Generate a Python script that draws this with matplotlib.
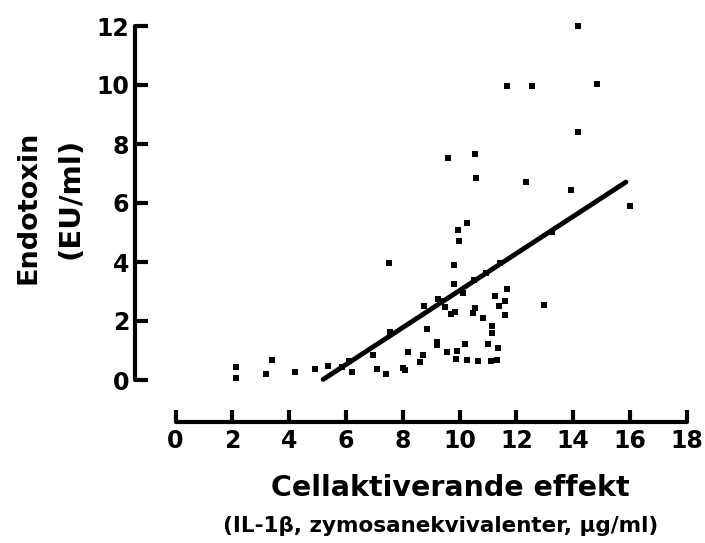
import matplotlib
matplotlib.use("Agg")
import matplotlib.pyplot as plt
import numpy as np

plt.rcParams['font.family'] = ['DejaVu Sans']
plt.rcParams['font.weight'] = 'bold'

# cell activating effect (x) vs endotoxin (y)
x_vals = [2.14, 2.14, 3.40, 3.19, 4.21, 4.91, 5.36, 5.85, 6.11, 6.23,
          6.96, 7.11, 7.42, 8.02, 8.09, 8.20, 7.53, 7.55,
          9.61, 10.55, 10.59, 9.94, 10.27, 9.99, 9.80, 11.42, 10.93,
          9.80, 10.52, 11.68, 10.13, 11.26, 11.60, 11.40, 11.61, 12.99,
          8.75, 9.25, 9.35, 9.49, 9.69, 9.84, 10.49, 10.55, 10.84,
          11.15, 11.13, 8.85, 9.20, 9.20, 10.19, 10.99, 11.37, 8.73,
          9.57, 9.92, 8.61, 9.88, 10.25, 10.66, 11.11, 11.31,
          14.18, 11.67, 12.57, 14.85, 14.18, 12.34, 13.93, 16.00, 13.25]
y_vals = [0.45, 0.06, 0.68, 0.19, 0.28, 0.37, 0.47, 0.45, 0.64, 0.28,
          0.85, 0.37, 0.21, 0.40, 0.34, 0.94, 3.96, 1.64,
          7.54, 7.65, 6.85, 5.08, 5.31, 4.71, 3.90, 3.98, 3.64,
          3.24, 3.40, 3.08, 2.94, 2.86, 2.67, 2.50, 2.20, 2.53,
          2.52, 2.74, 2.69, 2.46, 2.23, 2.32, 2.26, 2.43, 2.11,
          1.83, 1.60, 1.73, 1.28, 1.19, 1.22, 1.21, 1.08, 0.85,
          0.94, 0.99, 0.61, 0.71, 0.68, 0.63, 0.63, 0.68,
          12.01, 9.98, 9.98, 10.02, 8.42, 6.72, 6.44, 5.89, 5.03]

# regression line end points
fit_x = [5.20, 15.86]
fit_y = [0.02, 6.71]

x_ticks = [0, 2, 4, 6, 8, 10, 12, 14, 16, 18]
y_ticks = [0, 2, 4, 6, 8, 10, 12]

W, H = 705, 543
fig = plt.figure(figsize=(W / 100, H / 100), dpi=100)
left, right, bottom, top = 135, 700, 422, 10
ax = fig.add_axes([left / W, (H - bottom) / H, (right - left) / W, (bottom - top) / H])

ax.plot(x_vals, y_vals, 's', color='black', markersize=5, markeredgewidth=0)
ax.plot(fit_x, fit_y, '-', color='black', linewidth=3.5, solid_capstyle='round')

ax.set_xlim((left - 175.5) / 28.4, (right - 175.5) / 28.4)
ax.set_ylim((380 - bottom) / 29.5, (380 - top) / 29.5)

for s in ['top', 'right']:
    ax.spines[s].set_visible(False)
ax.spines['left'].set_bounds(0, 12)
ax.spines['bottom'].set_bounds(0, 18)
for s in ['left', 'bottom']:
    ax.spines[s].set_linewidth(3)
    ax.spines[s].set_capstyle('round')

ax.set_xticks(x_ticks)
ax.set_yticks(y_ticks)
ax.tick_params(direction='in', length=9, width=3, labelsize=17)
ax.tick_params(axis='y', pad=4)
ax.tick_params(axis='x', pad=5)
for lab in ax.get_xticklabels() + ax.get_yticklabels():
    lab.set_fontweight('bold')

fig.text(450 / W, 1 - 488 / H, 'Cellaktiverande effekt', ha='center', va='center',
         fontsize=20.5, fontweight='bold')
fig.text(441 / W, 1 - 526 / H, '(IL-1β, zymosanekvivalenter, µg/ml)', ha='center',
         va='center', fontsize=15.5, fontweight='bold')
fig.text(29 / W, 1 - 207 / H, 'Endotoxin', ha='center', va='center',
         rotation=90, fontsize=19.5, fontweight='bold')
fig.text(70 / W, 1 - 198 / H, '(EU/ml)', ha='center', va='center',
         rotation=90, fontsize=21, fontweight='bold')

fig.savefig('out.png', dpi=100)
